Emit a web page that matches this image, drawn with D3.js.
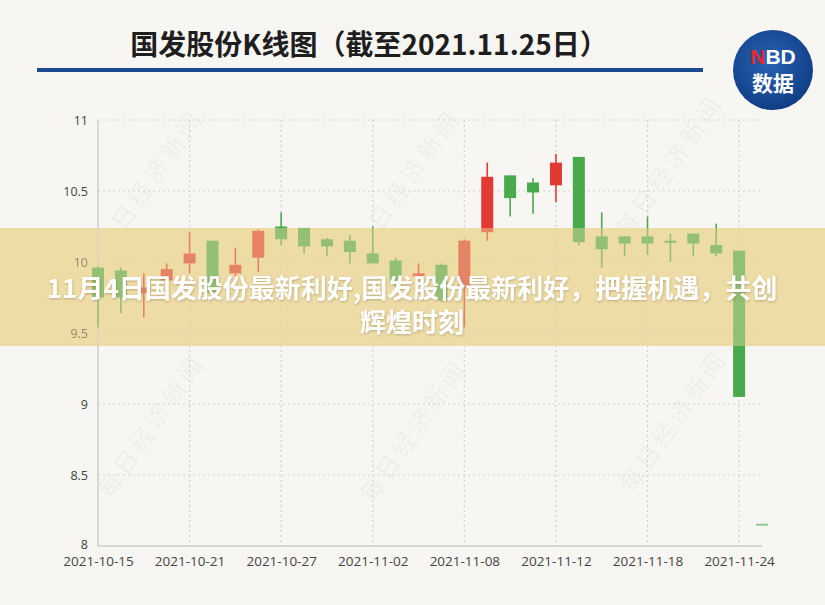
<!DOCTYPE html>
<html><head><meta charset="utf-8">
<script src="https://cdn.jsdelivr.net/npm/d3@7"></script>
<style>
html,body{margin:0;padding:0;background:#f8f6f2;}
svg{display:block;}
</style></head>
<body>
<svg id="c" width="825" height="605"></svg>
<script>
const dates = ["2021-10-15","2021-10-18","2021-10-19","2021-10-20","2021-10-21","2021-10-22","2021-10-25","2021-10-26","2021-10-27","2021-10-28","2021-10-29","2021-11-01","2021-11-02","2021-11-03","2021-11-04","2021-11-05","2021-11-08","2021-11-09","2021-11-10","2021-11-11","2021-11-12","2021-11-15","2021-11-16","2021-11-17","2021-11-18","2021-11-19","2021-11-22","2021-11-23","2021-11-24","2021-11-25"];
const open  = [9.96,9.94,9.78,9.87,9.99,10.15,9.92,10.03,10.25,10.24,10.16,10.15,10.06,10.01,9.90,9.98,9.82,10.21,10.61,10.56,10.54,10.74,10.18,10.18,10.18,10.15,10.20,10.12,10.08,8.15];
const high  = [9.97,9.96,9.92,9.99,10.21,10.15,10.10,10.23,10.35,10.24,10.17,10.19,10.25,10.03,9.99,9.99,10.16,10.70,10.61,10.59,10.76,10.74,10.35,10.18,10.32,10.20,10.20,10.27,10.08,8.15];
const low   = [9.54,9.64,9.61,9.85,9.92,9.75,9.87,9.93,10.12,10.06,10.04,9.99,9.99,9.80,9.85,9.72,9.54,10.15,10.32,10.34,10.42,10.12,9.96,10.04,10.05,10.00,10.04,10.04,9.05,8.15];
const close = [9.75,9.75,9.82,9.95,10.06,9.78,9.98,10.22,10.16,10.11,10.11,10.07,9.99,9.85,9.92,9.73,10.15,10.60,10.45,10.49,10.70,10.14,10.09,10.13,10.13,10.14,10.13,10.06,9.05,8.15];
const yTicks = [8,8.5,9,9.5,10,10.5,11];
const xTickIdx = [0,4,8,12,16,20,24,28];
const title = "国发股份K线图（截至2021.11.25日）";
const bannerLines = ["11月4日国发股份最新利好,国发股份最新利好，把握机遇，共创","辉煌时刻"];
const watermark = "每日经济新闻";

const svg = d3.select("#c");
const W = 825, H = 605;
const defs = svg.append("defs");
defs.append("clipPath").attr("id","bclip").append("rect")
  .attr("x",0).attr("y",228).attr("width",W).attr("height",118);
const f = defs.append("filter").attr("id","ts").attr("x","-10%").attr("y","-30%").attr("width","120%").attr("height","160%");
f.append("feDropShadow").attr("dx",0.5).attr("dy",1).attr("stdDeviation",1).attr("flood-color","#7a6a40").attr("flood-opacity",0.45);
const rg = defs.append("radialGradient").attr("id","lg").attr("cx","45%").attr("cy","40%").attr("r","60%");
rg.append("stop").attr("offset","0%").attr("stop-color","#2a62b4");
rg.append("stop").attr("offset","100%").attr("stop-color","#113f86");

svg.append("rect").attr("width",W).attr("height",H).attr("fill","#f8f6f2");

// watermarks
const wm = svg.append("g").attr("fill","#000").attr("fill-opacity",0.03)
  .attr("font-family","'Noto Sans CJK SC'").attr("font-size",24).attr("font-weight",700);
[[148,180],[405,180],[668,165],[150,425],[412,430],[672,420]].forEach(([x,y])=>{
  wm.append("text").attr("transform",`translate(${x},${y}) rotate(-55)`).attr("text-anchor","middle")
    .attr("dominant-baseline","central").attr("letter-spacing",4).text(watermark);
});

const x = d3.scaleLinear().domain([0,dates.length-1]).range([98,762]);
const y = d3.scaleLinear().domain([8,11]).range([546,120]);

const chart = svg.append("g").attr("id","chart");
// horizontal grid
chart.append("g").selectAll("line").data(yTicks.filter(t=>t>8)).join("line")
  .attr("x1",x(0)).attr("x2",x(dates.length-1)).attr("y1",d=>y(d)).attr("y2",d=>y(d))
  .attr("stroke","#cfcfcf").attr("stroke-width",1.2).attr("stroke-dasharray","2,3");
// vertical grid
chart.append("g").selectAll("line").data(xTickIdx.slice(1)).join("line")
  .attr("x1",d=>x(d)).attr("x2",d=>x(d)).attr("y1",y(11)).attr("y2",y(8))
  .attr("stroke","#cfcfcf").attr("stroke-width",1.2).attr("stroke-dasharray","2,3");
// axes lines
chart.append("line").attr("x1",x(0)).attr("x2",x(0)).attr("y1",y(11)).attr("y2",y(8)).attr("stroke","#cccccc").attr("stroke-width",1.5);
chart.append("line").attr("x1",x(0)).attr("x2",x(dates.length-1)).attr("y1",y(8)).attr("y2",y(8)).attr("stroke","#cccccc").attr("stroke-width",1.5);
// y labels
const yAxis = d3.axisLeft(y).tickValues(yTicks).tickSize(0).tickPadding(10).tickFormat(d=>String(d));
const ya = chart.append("g").attr("transform",`translate(${x(0)},0)`).call(yAxis);
ya.select(".domain").remove();
ya.selectAll("text").attr("font-family","'Open Sans'").attr("font-size",12.5).attr("fill","#444")
  .attr("dy",d=>d===8?"0.2em":"0.32em");
// x labels
const xAxis = d3.axisBottom(x).tickValues(xTickIdx).tickSize(0).tickPadding(10).tickFormat(i=>dates[i]);
const xa = chart.append("g").attr("transform",`translate(0,${y(8)})`).call(xAxis);
xa.select(".domain").remove();
xa.selectAll("text").attr("font-family","'Open Sans'").attr("font-size",13.5).attr("fill","#444");

// candles
const RED="#e03a32", GREEN="#49a94d", FLAT="#8fcb90";
const idx = d3.range(dates.length);
const col = i => close[i]===open[i] ? FLAT : (close[i]>open[i] ? RED : GREEN);
const cg = chart.append("g");
cg.selectAll("line").data(idx).join("line")
  .attr("x1",i=>x(i)).attr("x2",i=>x(i)).attr("y1",i=>y(high[i])).attr("y2",i=>y(low[i]))
  .attr("stroke",col).attr("stroke-width",1.6);
const bw = 12;
cg.selectAll("rect").data(idx).join("rect")
  .attr("x",i=>x(i)-bw/2).attr("width",bw)
  .attr("y",i=>y(Math.max(open[i],close[i])) - (open[i]===close[i]?1:0))
  .attr("height",i=>Math.max(2, Math.abs(y(open[i])-y(close[i]))))
  .attr("fill",col);

// title
svg.append("text").attr("x",369).attr("y",55).attr("text-anchor","middle")
  .attr("font-family","'Noto Sans CJK SC'").attr("font-weight",700).attr("font-size",28)
  .attr("fill","#1e1e1e").text(title);
svg.append("rect").attr("x",37).attr("y",68).attr("width",666).attr("height",4).attr("fill","#1c4a92");
// logo
svg.append("circle").attr("cx",773).attr("cy",70).attr("r",40).attr("fill","url(#lg)");
const nbd = svg.append("text").attr("x",773).attr("y",64).attr("text-anchor","middle")
  .attr("font-family","'Liberation Sans'").attr("font-weight",700).attr("font-size",21);
nbd.append("tspan").attr("fill","#e8262b").text("N");
nbd.append("tspan").attr("fill","#ffffff").text("BD");
svg.append("text").attr("x",773).attr("y",91).attr("text-anchor","middle")
  .attr("font-family","'Noto Sans CJK SC'").attr("font-weight",700).attr("font-size",21)
  .attr("fill","#ffffff").text("数据");

// banner
svg.append("rect").attr("x",0).attr("y",228).attr("width",W).attr("height",118).attr("fill","#eedca6");
svg.append("use").attr("href","#chart").attr("clip-path","url(#bclip)").attr("opacity",0.55);
const bt = svg.append("g").attr("font-family","'Noto Sans CJK SC'").attr("font-weight",700)
  .attr("font-size",26).attr("fill","#ffffff").attr("text-anchor","middle").attr("filter","url(#ts)");
bannerLines.forEach((t,k)=>{
  bt.append("text").attr("x",412).attr("y",298+k*34).text(t);
});
</script>
</body></html>
